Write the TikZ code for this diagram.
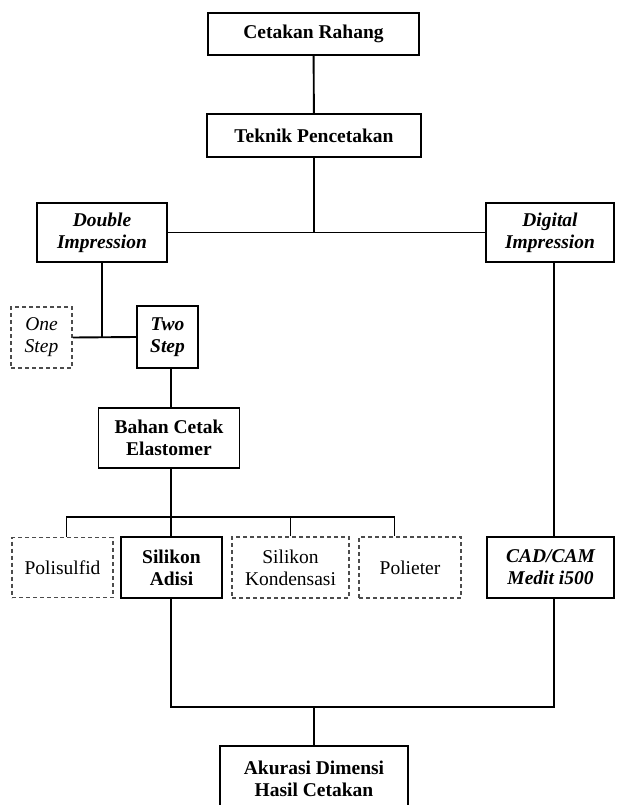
\documentclass[tikz,border=0pt]{standalone}
\usepackage{fontspec}
\setmainfont{Liberation Serif}
\usetikzlibrary{calc}

\tikzset{
    box/.style={draw, line width=1.9pt, align=center, inner sep=0pt, font=\fontsize{19.5}{22}\selectfont\bfseries},
    dbox/.style={box, draw=black!70, dash pattern=on 4pt off 3pt, line width=1.5pt, font=\fontsize{19.5}{22}\selectfont},
    link/.style={line width=1.9pt}
}

\begin{document}
\begin{tikzpicture}[x=1pt, y=-1pt]
        \useasboundingbox (0,0) rectangle (616,805);
        \clip (0,0) rectangle (616,805);
        % top
        \node[box, minimum width=211pt, minimum height=42pt] (rahang) at (313.5, 34) {Cetakan Rahang};
        \node[box, minimum width=214pt, minimum height=43pt] (teknik) at (314, 135.5) {Teknik Pencetakan};
        % techniques
        \node[box, minimum width=130pt, minimum height=59pt] (double) at (102, 232.5) {\itshape Double\\\itshape Impression};
        \node[box, minimum width=128pt, minimum height=59pt] (digital) at (550, 232.5) {\itshape Digital\\\itshape Impression};
        \node[dbox, minimum width=61pt, minimum height=61pt] (onestep) at (41.5, 337.5) {\itshape One\\\itshape Step};
        \node[box, minimum width=61pt, minimum height=62pt] (twostep) at (167.5, 337) {\itshape Two\\\itshape Step};
        \node[box, minimum width=141pt, minimum height=60pt] (bahan) at (169, 438) {Bahan Cetak\\Elastomer};
        % materials
        \node[dbox, minimum width=101pt, minimum height=60pt] (polisulfid) at (62.5, 567.5) {Polisulfid};
        \node[box, minimum width=101pt, minimum height=61pt] (adisi) at (171.5, 567.5) {Silikon\\Adisi};
        \node[dbox, minimum width=117pt, minimum height=61pt] (kondensasi) at (290.5, 567.5) {Silikon\\Kondensasi};
        \node[dbox, minimum width=102pt, minimum height=61pt] (polieter) at (410, 567.5) {Polieter};
        \node[box, minimum width=127pt, minimum height=61pt] (cadcam) at (550.5, 567.5) {\itshape CAD/CAM\\\itshape Medit i500};
        % result
        \node[box, minimum width=188pt, minimum height=66pt] (akurasi) at (314, 779) {Akurasi Dimensi\\Hasil Cetakan};
        % buses
        \coordinate (busA) at (171, 517);
        \coordinate (busB) at (314, 707);
        % links
        \draw[link] (rahang) -- (teknik);
        \draw[link] (double.east) -- (digital.west);
        \draw[link] (teknik.south) -- (teknik.south |- double.east);
        \draw[link] (double.south) -- (double.south |- twostep.west);
        \draw[link] (onestep.east) -- (twostep.west);
        \draw[link] (twostep.south -| busA) -- (bahan.north -| busA);
        \draw[link] (bahan.south -| busA) -- (busA);
        \draw[link] ($(polisulfid.north)+(4,0)$) |- (busA);
        \draw[link] (busA) -| ($(polieter.north west)!0.35!(polieter.north east)$);
        \draw[link] (busA) -- (adisi.north -| busA);
        \draw[link] (kondensasi.north) -- (kondensasi.north |- busA);
        \draw[link] (digital.south -| 554,0) -- (cadcam.north -| 554,0);
        \draw[link] (adisi.south -| busA) |- (busB) -| (cadcam.south -| 554,0);
        \draw[link] (busB) -- (akurasi.north);
    \end{tikzpicture}
\end{document}
